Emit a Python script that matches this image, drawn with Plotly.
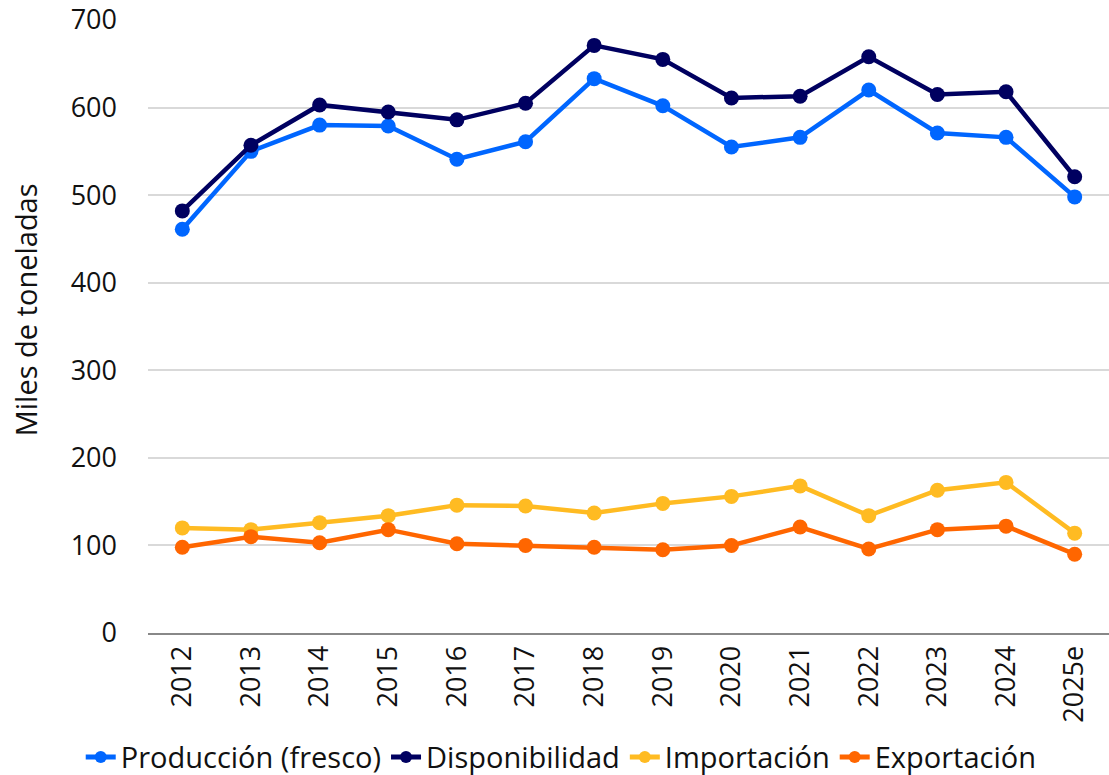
import plotly.graph_objects as go

years = ["2012", "2013", "2014", "2015", "2016", "2017", "2018", "2019",
         "2020", "2021", "2022", "2023", "2024", "2025e"]
produccion = [461, 550, 580, 579, 541, 561, 633, 602, 555, 566, 620, 571, 566, 498]
disponibilidad = [482, 557, 603, 595, 586, 605, 671, 655, 611, 613, 658, 615, 618, 521]
importacion = [120, 118, 126, 134, 146, 145, 137, 148, 156, 168, 134, 163, 172, 114]
exportacion = [98, 110, 103, 118, 102, 100, 98, 95, 100, 121, 96, 118, 122, 90]

series = [
    ("Producción (fresco)", produccion, "#0066FF"),
    ("Disponibilidad", disponibilidad, "#000060"),
    ("Importación", importacion, "#FFBB22"),
    ("Exportación", exportacion, "#FF6600"),
]

font_family = "Open Sans, Noto Sans, sans-serif"
FS = 27

fig = go.Figure()
for name, vals, color in series:
    fig.add_trace(go.Scatter(
        x=years, y=vals, name=name, mode="lines+markers",
        line=dict(color=color, width=4.5),
        marker=dict(color=color, size=15),
    ))

fig.add_annotation(
    text="Miles de toneladas", textangle=-90,
    xref="paper", yref="paper", x=-0.128, y=0.528, xanchor="center", yanchor="middle",
    showarrow=False, font=dict(size=29, family=font_family, color="#111111"),
)

fig.update_layout(
    width=1109, height=775,
    margin=dict(l=148, r=0, t=20, b=142),
    paper_bgcolor="white", plot_bgcolor="white",
    font=dict(family=font_family, size=FS, color="#111111"),
    showlegend=True,
    legend=dict(orientation="h", x=0.43, xanchor="center", y=0.023, yanchor="middle",
                yref="container", font=dict(size=29),
                tracegroupgap=0, traceorder="normal", itemsizing="constant"),
    xaxis=dict(type="category", range=[-0.5, 13.5], tickangle=-90,
               showgrid=False, showline=True, linecolor="#888888", linewidth=2,
               ticks="", tickfont=dict(size=FS), automargin=False),
    yaxis=dict(range=[0, 700], dtick=100, showgrid=True, gridcolor="#d9d9d9",
               gridwidth=2, zeroline=False, ticks="", showline=False,
               tickfont=dict(size=FS), ticklabelstandoff=30, automargin=False,
               ticklabeloverflow="allow"),
)

fig.write_html("out.html", config={"displayModeBar": False},
               post_script="document.body.style.margin='0';")
